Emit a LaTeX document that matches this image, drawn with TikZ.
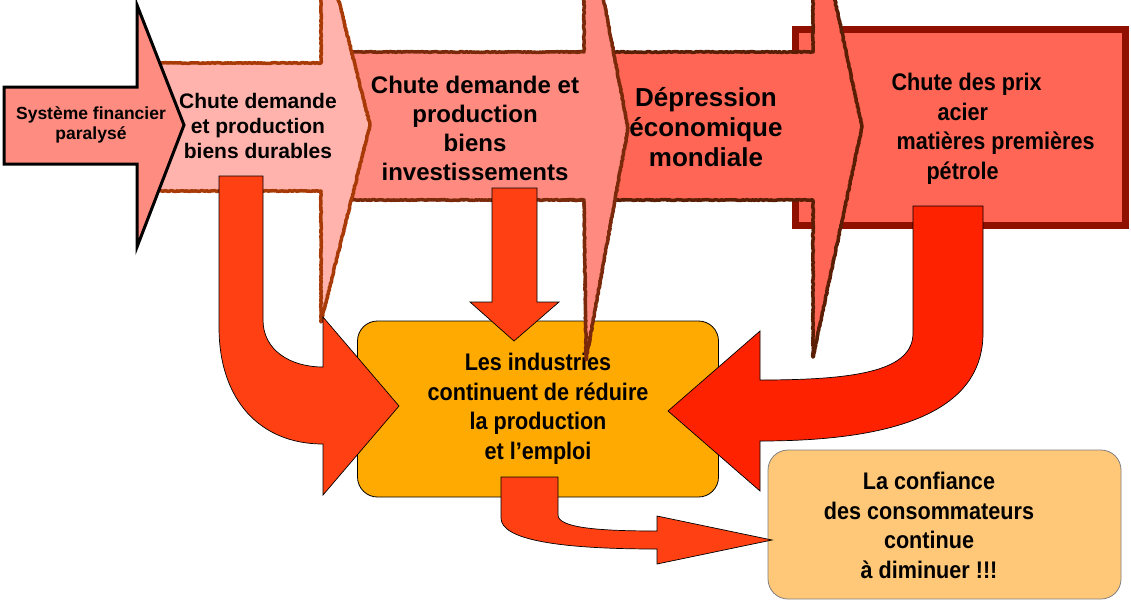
\documentclass[tikz,border=0pt]{standalone}
\usepackage{fontspec}
\setmainfont{Liberation Sans}
\newfontfamily\narrowfont[FakeStretch=0.9]{Liberation Sans}
\usetikzlibrary{decorations.pathmorphing}

\definecolor{sysfill}{HTML}{FF8C80}
\definecolor{durfill}{HTML}{FFB3AC}
\definecolor{durline}{HTML}{A83A08}
\definecolor{invfill}{HTML}{FF8A80}
\definecolor{invline}{HTML}{7A2A0A}
\definecolor{depfill}{HTML}{FF6655}
\definecolor{depline}{HTML}{5A1E05}
\definecolor{prixline}{HTML}{901000}
\definecolor{indfill}{HTML}{FFAA00}
\definecolor{conffill}{HTML}{FFC878}
\definecolor{redA}{HTML}{FF4013}
\definecolor{redB}{HTML}{FF2200}

\tikzset{
  crayon/.style={line width=3.5pt, line join=round, decorate,
    decoration={random steps, segment length=1.5pt, amplitude=0.45pt}},
  blockarrow/.style={draw=black, line width=0.7pt, line join=miter},
  arrowtext/.style={align=center, font=\bfseries},
  narrowtext/.style={align=center, font=\narrowfont\bfseries\fontsize{24}{29.5}\selectfont},
  roundbox/.style={rounded corners=20pt, line width=0.8pt}
}

\begin{document}
\pgfmathsetseed{7}
\begin{tikzpicture}[x=1pt, y=-1pt]
\useasboundingbox (0,0) rectangle (1131,603);
\clip (0,0) rectangle (1131,603);

% boxes
\node[roundbox, draw=black, fill=indfill, minimum width=361pt, minimum height=176pt, narrowtext] (ind) at (538,409)
  {Les industries\\continuent de réduire\\la production\\et l’emploi};
\node[roundbox, draw=gray, fill=conffill, minimum width=353pt, minimum height=149pt] (conf) at (944.5,524.5) {};
\node[narrowtext] (conftxt) at (929,525.5) {La confiance\\des consommateurs\\continue\\à diminuer !!!};
\node[draw=prixline, fill=depfill, line width=7pt, minimum width=330pt, minimum height=196pt] (prix) at (960.5,127.5) {};

% big arrows, back to front
\filldraw[crayon, fill=depfill, draw=depline] (560,52) -- (813,52) -- (813,-103) -- (862,127) -- (813,357) -- (813,200) -- (560,200) -- cycle;
\filldraw[crayon, fill=invfill, draw=invline] (330,52) -- (584,52) -- (584,-104) -- (628,128) -- (586,360) -- (584,200) -- (330,200) -- cycle;
\filldraw[crayon, fill=durfill, draw=durline] (150,63) -- (321,63) -- (321,-70) -- (370,125) -- (321,322) -- (321,191) -- (150,191) -- cycle;
\filldraw[fill=sysfill, draw=black, line width=3pt] (4,87) -- (137,87) -- (137,5) -- (184,125) -- (137,247) -- (137,164) -- (4,164) -- cycle;

\node[arrowtext, font=\bfseries\fontsize{17.5}{20}\selectfont] (sys) at (91,125) {Système financier\\paralysé};
\node[arrowtext, font=\bfseries\fontsize{21}{25}\selectfont] (durables) at (258,126) {Chute demande\\et production\\biens durables};
\node[arrowtext, font=\bfseries\fontsize{24}{29}\selectfont] (invest) at (475,128.5) {Chute demande et\\production\\biens\\investissements};
\node[arrowtext, font=\bfseries\fontsize{26}{30}\selectfont] (depression) at (706,127) {Dépression\\économique\\mondiale};
\node[narrowtext, align=left, anchor=west] (prixtxt) at (888,129)
  {Chute des prix\\\hspace*{46pt}acier\\\hspace*{5pt}matières premières\\\hspace*{35pt}pétrole};

% red arrows
\filldraw[blockarrow, fill=redA] (219,176) -- (263,176) -- (263,320) .. controls (263,350) and (290,367) .. (323,367)
  -- (323,317) -- (399,406) -- (323,495) -- (323,444) .. controls (260,444) and (219,400) .. (219,327) -- cycle;
\filldraw[blockarrow, fill=redA] (492,188) -- (537,188) -- (537,302) -- (559,302) -- (514,341) -- (470,302) -- (492,302) -- cycle;
\filldraw[blockarrow, fill=redB] (913,206) -- (983,206) -- (983,333) .. controls (983,400) and (920,441) .. (760,441)
  -- (760,491) -- (668,411) -- (760,331) -- (760,380) .. controls (860,380) and (913,370) .. (913,333) -- cycle;
\filldraw[blockarrow, fill=redA] (501,477) -- (558,477) -- (558,515) .. controls (558,528) and (600,531) .. (657,531)
  -- (657,516) -- (772,540) -- (657,564) -- (657,549) .. controls (560,549) and (501,540) .. (501,518) -- cycle;
\end{tikzpicture}
\end{document}
